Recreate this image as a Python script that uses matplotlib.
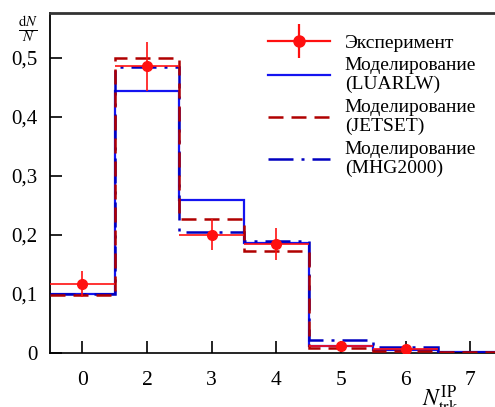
import numpy as np
import matplotlib
matplotlib.use('Agg')
import matplotlib.pyplot as plt
from matplotlib.lines import Line2D

plt.rcParams['font.family'] = ['Liberation Serif', 'DejaVu Serif']
plt.rcParams['mathtext.fontset'] = 'stix'

# ---- data ----
categories = ['0', '2', '3', '4', '5', '6', '7']
exp_values = [0.116, 0.485, 0.200, 0.184, 0.011, 0.006]
exp_errors = [0.022, 0.041, 0.026, 0.027, 0.004, 0.004]
luarlw = [0.100, 0.444, 0.258, 0.186, 0.012, 0.004, 0.002]
jetset = [0.098, 0.500, 0.226, 0.173, 0.008, 0.003, 0.001]
mhg2000 = [0.100, 0.484, 0.204, 0.189, 0.021, 0.009, 0.002]
y_ticks = [0, 0.1, 0.2, 0.3, 0.4, 0.5]
y_tick_labels = ['0', '0,1', '0,2', '0,3', '0,4', '0,5']
legend_labels = ['Эксперимент', 'Моделирование\n(LUARLW)',
                 'Моделирование\n(JETSET)', 'Моделирование\n(MHG2000)']

RED = '#ff1010'
BLUE = '#1414f0'
DRED = '#b00000'
DBLUE = '#0000c0'
DASH = (0, (6, 3.2))
DASHDOT = (0, (10, 3.2, 1.2, 3.2))

fig = plt.figure(figsize=(4.95, 4.07), dpi=100)
ax = fig.add_axes([50 / 495, 1 - 352.7 / 407, 0.92, (352.7 - 13.3) / 407])

pos = np.arange(len(categories))
edges = np.arange(len(luarlw) + 1) - 0.5

ax.stairs(luarlw, edges, baseline=None, color=BLUE, lw=1.6, zorder=2)
ax.stairs(mhg2000, edges, baseline=None, color=DBLUE, lw=1.8,
          linestyle=DASHDOT, zorder=3)
ax.stairs(jetset, edges, baseline=None, color=DRED, lw=1.8,
          linestyle=DASH, zorder=4)
ax.errorbar(pos[:len(exp_values)], exp_values, yerr=exp_errors, xerr=0.5,
            fmt='o', color=RED, ms=7, elinewidth=1.2, capsize=0, zorder=5)

h_e = (Line2D([], [], color=RED, lw=1.6, marker='o', ms=8),
       Line2D([], [], color=RED, lw=0, marker='|', ms=24, mew=1.6))
h_l = Line2D([], [], color=BLUE, lw=1.6)
h_j = Line2D([], [], color=DRED, lw=1.8, linestyle=DASH)
h_m = Line2D([], [], color=DBLUE, lw=1.8, linestyle=DASHDOT)

leg = fig.legend([h_e, h_l, h_j, h_m], legend_labels, loc='upper left',
                 bbox_to_anchor=(268 / 495, 1 - 34 / 407), frameon=False,
                 fontsize=14, handlelength=3.2, handletextpad=0.75,
                 borderpad=0, borderaxespad=0, labelspacing=0.3)
for t in leg.get_texts():
    t.set_linespacing(1.12)

ax.set_xlim(-0.5, -0.5 + 0.92 * 495 / 64.67)
ax.set_ylim(0, 0.575)
ax.set_xticks(pos)
ax.set_xticklabels(categories)
ax.set_yticks(y_ticks)
ax.set_yticklabels(y_tick_labels)
ax.tick_params(axis='both', direction='in', length=8.5, width=1.2)
ax.tick_params(axis='x', pad=13, labelsize=15.5)
ax.tick_params(axis='y', pad=9, labelsize=15)

ax.spines['top'].set_color('#333333')
ax.spines['top'].set_linewidth(2.0)
ax.spines['left'].set_linewidth(1.3)
ax.spines['bottom'].set_linewidth(1.2)
ax.spines['right'].set_visible(False)

fig.text(0.057, 0.93, r'$\frac{\mathrm{d}N}{N}$', fontsize=15, ha='center', va='center')
fig.text(0.853, -0.022, r'$N_{\mathrm{trk}}^{\mathrm{IP}}$', fontsize=17, va='bottom')

fig.savefig('out.png', dpi=100)
